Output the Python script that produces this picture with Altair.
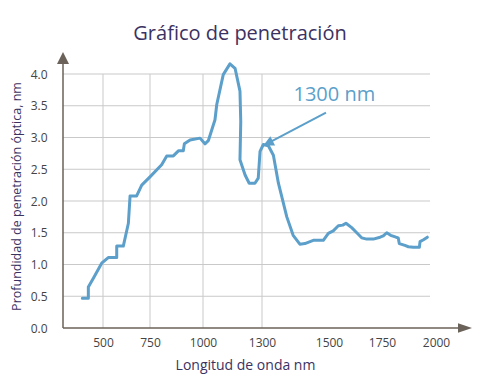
import altair as alt
import pandas as pd

# ---- data ----
wavelength = [390, 422, 422, 448, 493, 528, 573, 573, 608, 635, 644, 679, 706, 750,
              805, 829, 860, 884, 907, 912, 939, 986, 1010, 1027, 1061, 1070, 1103,
              1137, 1163, 1188, 1192, 1188, 1214, 1235, 1264, 1281, 1290, 1304, 1319,
              1334, 1349, 1374, 1393, 1413, 1428, 1453, 1483, 1498, 1520, 1544, 1565,
              1580, 1607, 1631, 1654, 1678, 1709, 1741, 1756, 1772, 1790, 1815, 1825,
              1830, 1856, 1872, 1895, 1923, 1926, 1942, 1960]
depth = [0.47, 0.47, 0.645, 0.78, 1.02, 1.11, 1.11, 1.29, 1.29, 1.65, 2.08, 2.08, 2.25,
         2.38, 2.57, 2.71, 2.71, 2.79, 2.79, 2.90, 2.96, 2.99, 2.90, 2.95, 3.28, 3.52,
         3.99, 4.16, 4.09, 3.73, 3.25, 2.65, 2.41, 2.28, 2.28, 2.36, 2.78, 2.89, 2.87,
         2.72, 2.28, 1.75, 1.46, 1.32, 1.33, 1.38, 1.38, 1.49, 1.53, 1.61, 1.62, 1.65,
         1.58, 1.50, 1.42, 1.40, 1.40, 1.43, 1.45, 1.50, 1.46, 1.43, 1.42, 1.33, 1.30,
         1.28, 1.27, 1.27, 1.36, 1.39, 1.43]

x_ticks = [500, 750, 1000, 1300, 1500, 1750, 2000]
y_ticks = [0.0, 0.5, 1.0, 1.5, 2.0, 2.5, 3.0, 3.5, 4.0]
grid_x = [500, 750, 1000, 1300]
grid_y = [0.5, 1.0, 1.5, 2.0, 2.5, 3.0, 3.5, 4.0]

annot_text = "1300 nm"
annot_pos = [1525, 3.67]
arrow_from = [1491, 3.39]
arrow_to = [1318, 2.91]

title_text = "Gráfico de penetración"
x_title = "Longitud de onda nm"
y_title = "Profundidad de penetración óptica, nm"

# ---- styling ----
BLUE = "#5b9fca"
GRID = "#c9c9c9"
AXIS = "#6b6259"
PURPLE = "#3b3262"
FONT = "Open Sans"

W, H = 409, 276
# the reference axis is not uniformly spaced: piecewise scale
x_tick_px = [40, 87, 140, 199, 266, 319, 373]
xscale = alt.Scale(domain=x_ticks, range=x_tick_px, nice=False, zero=False)
yscale = alt.Scale(domain=[0, 4.3465], nice=False, zero=False)

xaxis = alt.Axis(values=x_ticks, format="d", grid=False, domain=False, ticks=False,
                 labelFontSize=12, labelFont=FONT, labelColor="#444444",
                 labelPadding=9, labelBaseline="top", labelFlush=False,
                 labelOverlap=False,
                 title=x_title, titleFont=FONT, titleFontSize=14,
                 titleFontWeight="normal", titleColor=PURPLE,
                 titleX=182, titleY=37, titleBaseline="middle", titleAlign="center")
yaxis = alt.Axis(values=y_ticks, format=".1f", grid=False, domain=False,
                 ticks=False, labelFontSize=12, labelFont=FONT,
                 labelColor="#444444", labelPadding=16, labelFlush=False,
                 labelOverlap=False,
                 title=y_title, titleFont=FONT, titleFontSize=12.5,
                 titleFontWeight="normal", titleColor=PURPLE,
                 titleX=-47, titleY=144, titleAngle=-90,
                 titleBaseline="middle", titleAlign="center")

curve_df = pd.DataFrame({"wl": wavelength, "depth": depth,
                         "idx": list(range(len(wavelength)))})

hgrid = alt.Chart(pd.DataFrame({"g": grid_y})).mark_rule(
    color=GRID, strokeWidth=1).encode(
    y=alt.Y("g:Q", scale=yscale, axis=yaxis),
    x=alt.value(0), x2=alt.value(367))

vgrid = alt.Chart(pd.DataFrame({"wl": grid_x, "y0": [0.0] * len(grid_x),
                                "y1": [4.0] * len(grid_x)})).mark_rule(
    color=GRID, strokeWidth=1).encode(
    x=alt.X("wl:Q", scale=xscale, axis=xaxis),
    y=alt.Y("y0:Q", scale=yscale, axis=yaxis), y2="y1:Q")

curve = alt.Chart(curve_df).mark_line(
    color=BLUE, strokeWidth=3, interpolate="linear",
    strokeJoin="round", strokeCap="round").encode(
    x=alt.X("wl:Q", scale=xscale, axis=xaxis),
    y=alt.Y("depth:Q", scale=yscale, axis=yaxis),
    order="idx:Q")

arrow_df = pd.DataFrame({"x0": [arrow_from[0]], "y0": [arrow_from[1]],
                         "x1": [arrow_to[0]], "y1": [arrow_to[1]]})
arrow_line = alt.Chart(arrow_df).mark_rule(color=BLUE, strokeWidth=2).encode(
    x=alt.X("x0:Q", scale=xscale, axis=xaxis), y=alt.Y("y0:Q", scale=yscale, axis=yaxis),
    x2="x1:Q", y2="y1:Q")
arrow_head = alt.Chart(arrow_df).mark_point(
    shape="M-1,1L0,-1L1,1Z", filled=True, color=BLUE, opacity=1,
    size=110, angle=243).encode(
    x=alt.X("x1:Q", scale=xscale, axis=xaxis), y=alt.Y("y1:Q", scale=yscale, axis=yaxis))

annot = alt.Chart(pd.DataFrame({"x": [annot_pos[0]], "y": [annot_pos[1]],
                                "t": [annot_text]})).mark_text(
    color=BLUE, fontSize=20, font=FONT, align="center", baseline="middle").encode(
    x=alt.X("x:Q", scale=xscale, axis=xaxis), y=alt.Y("y:Q", scale=yscale, axis=yaxis),
    text="t:N")

# axis lines with arrowheads
deco = pd.DataFrame({"k": [0]})
y_axis_line = alt.Chart(deco).mark_rule(color=AXIS, strokeWidth=1.5).encode(
    x=alt.value(0), y=alt.value(12), y2=alt.value(H))
x_axis_line = alt.Chart(deco).mark_rule(color=AXIS, strokeWidth=1.5).encode(
    x=alt.value(0), x2=alt.value(396), y=alt.value(H))
y_arrow = alt.Chart(deco).mark_point(
    shape="M-1,1L0,-1L1,1Z", filled=True, color=AXIS, opacity=1, size=144).encode(
    x=alt.value(0), y=alt.value(6))
x_arrow = alt.Chart(deco).mark_point(
    shape="M-1,-0.67L1,0.0L-1,0.67Z", filled=True, color=AXIS, opacity=1,
    size=196).encode(x=alt.value(402), y=alt.value(H))

title = alt.Chart(pd.DataFrame({"t": [title_text]})).mark_text(
    color=PURPLE, fontSize=20, font=FONT, align="center", baseline="middle").encode(
    x=alt.value(177), y=alt.value(-18), text="t:N")

chart = alt.layer(
    hgrid, vgrid, y_axis_line, x_axis_line, y_arrow, x_arrow,
    curve, arrow_line, arrow_head, annot, title
).properties(
    width=W, height=H,
    background="white",
    autosize=alt.AutoSizeParams(type="none"),
    padding={"left": 55, "top": 44, "right": 0, "bottom": 60},
).configure_view(stroke=None)

chart.save("out.html", embed_options={"renderer": "svg", "actions": False})
